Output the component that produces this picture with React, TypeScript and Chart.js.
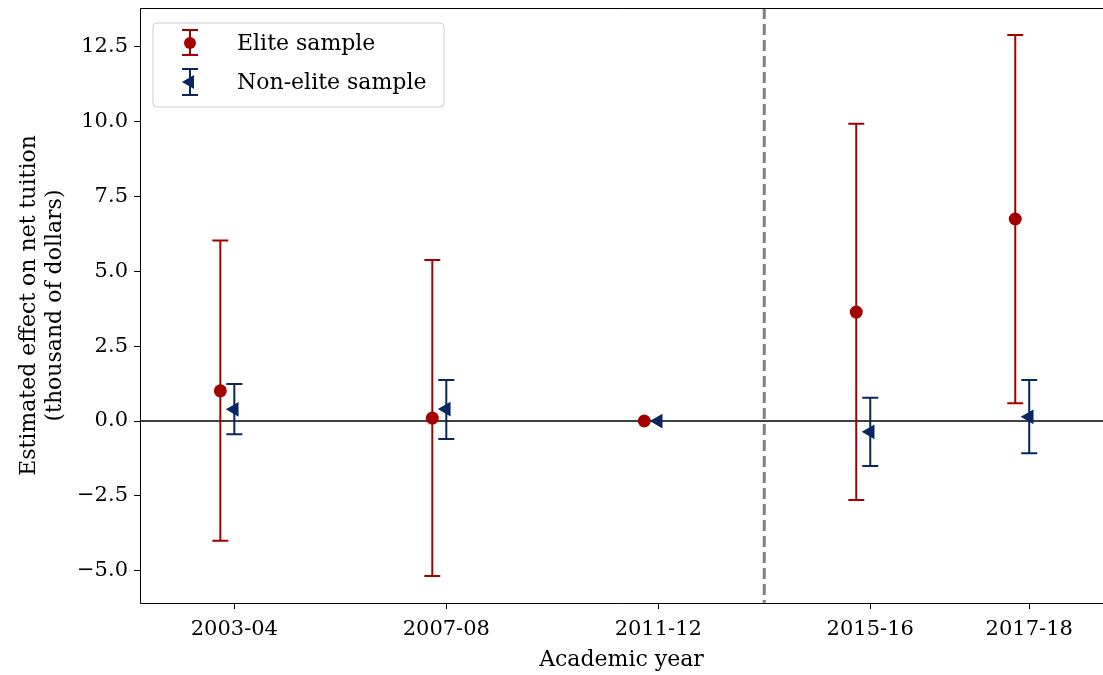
import React, { useEffect, useRef } from "react";
import { Chart, registerables } from "chart.js";

Chart.register(...registerables);

const categories = ["2003-04", "2007-08", "2011-12", "2015-16", "2017-18"];
const xPositions = [0, 1, 2, 3, 3.75];
const eliteEst = [1.01, 0.1, 0, 3.64, 6.75];
const eliteLow = [-4.0, -5.18, 0, -2.64, 0.59];
const eliteHigh = [6.03, 5.38, 0, 9.93, 12.9];
const nonEliteEst = [0.39, 0.4, 0, -0.36, 0.14];
const nonEliteLow = [-0.44, -0.6, 0, -1.5, -1.08];
const nonEliteHigh = [1.24, 1.37, 0, 0.78, 1.37];
const yTicks = [-5, -2.5, 0, 2.5, 5, 7.5, 10, 12.5];
const eliteOffset = -0.066;
const dividerX = 2.5;
const seriesNames = ["Elite sample", "Non-elite sample"];

const RED = "rgb(165,0,0)";
const NAVY = "rgb(8,38,96)";
const FONT = "'DejaVu Serif', 'Liberation Serif', serif";
const FS = 21;
const FS_TITLE = 22;

function drawTriangleLeft(ctx: CanvasRenderingContext2D, x: number, y: number, r: number, color: string) {
  ctx.beginPath();
  ctx.moveTo(x - r, y);
  ctx.lineTo(x + r * 0.5, y - r * 0.866);
  ctx.lineTo(x + r * 0.5, y + r * 0.866);
  ctx.closePath();
  ctx.fillStyle = color;
  ctx.fill();
}

function drawErrBar(ctx: CanvasRenderingContext2D, x: number, y1: number, y2: number, color: string) {
  const cap = 8;
  ctx.strokeStyle = color;
  ctx.lineWidth = 2;
  ctx.beginPath();
  ctx.moveTo(x, y1);
  ctx.lineTo(x, y2);
  ctx.moveTo(x - cap, y1);
  ctx.lineTo(x + cap, y1);
  ctx.moveTo(x - cap, y2);
  ctx.lineTo(x + cap, y2);
  ctx.stroke();
}

const decorPlugin = {
  id: "decor",
  beforeDatasetsDraw(chart: any) {
    const { ctx, chartArea, scales } = chart;
    const xs = scales.x;
    const ys = scales.y;
    ctx.save();
    const y0 = ys.getPixelForValue(0);
    ctx.strokeStyle = "#000";
    ctx.lineWidth = 1.5;
    ctx.beginPath();
    ctx.moveTo(chartArea.left, y0);
    ctx.lineTo(chartArea.right, y0);
    ctx.stroke();
    const xd = xs.getPixelForValue(dividerX);
    ctx.strokeStyle = "#808080";
    ctx.lineWidth = 3;
    ctx.setLineDash([11, 5]);
    ctx.beginPath();
    ctx.moveTo(xd, chartArea.top);
    ctx.lineTo(xd, chartArea.bottom);
    ctx.stroke();
    ctx.setLineDash([]);
    xPositions.forEach((xv, i) => {
      if (eliteHigh[i] !== eliteLow[i]) {
        drawErrBar(ctx, xs.getPixelForValue(xv + eliteOffset), ys.getPixelForValue(eliteLow[i]), ys.getPixelForValue(eliteHigh[i]), RED);
      }
    });
    xPositions.forEach((xv, i) => {
      if (nonEliteHigh[i] !== nonEliteLow[i]) {
        drawErrBar(ctx, xs.getPixelForValue(xv), ys.getPixelForValue(nonEliteLow[i]), ys.getPixelForValue(nonEliteHigh[i]), NAVY);
      }
    });
    ctx.restore();
  },
  afterDraw(chart: any) {
    const { ctx, chartArea } = chart;
    ctx.save();
    ctx.strokeStyle = "#000";
    ctx.lineWidth = 1;
    const L = Math.round(chartArea.left) + 0.5;
    const T = Math.round(chartArea.top) + 0.5;
    const B = Math.round(chartArea.bottom) + 0.5;
    const R = chartArea.right;
    ctx.beginPath();
    ctx.moveTo(L, B);
    ctx.lineTo(L, T);
    ctx.lineTo(R, T);
    ctx.moveTo(L, B);
    ctx.lineTo(R, B);
    ctx.stroke();
    const lx = chartArea.left + 13;
    const ly = chartArea.top + 15;
    const lw = 291;
    const lh = 84;
    const rr = 4;
    ctx.beginPath();
    ctx.moveTo(lx + rr, ly);
    ctx.arcTo(lx + lw, ly, lx + lw, ly + lh, rr);
    ctx.arcTo(lx + lw, ly + lh, lx, ly + lh, rr);
    ctx.arcTo(lx, ly + lh, lx, ly, rr);
    ctx.arcTo(lx, ly, lx + lw, ly, rr);
    ctx.closePath();
    ctx.fillStyle = "rgba(255,255,255,0.8)";
    ctx.fill();
    ctx.strokeStyle = "#cccccc";
    ctx.lineWidth = 1;
    ctx.stroke();
    const mx = lx + 37;
    const rows = [ly + 20, ly + 59];
    drawErrBar(ctx, mx, rows[0] - 13, rows[0] + 12, RED);
    ctx.beginPath();
    ctx.arc(mx, rows[0], 6, 0, Math.PI * 2);
    ctx.fillStyle = RED;
    ctx.fill();
    drawErrBar(ctx, mx, rows[1] - 13, rows[1] + 13, NAVY);
    drawTriangleLeft(ctx, mx, rows[1], 8, NAVY);
    ctx.fillStyle = "#000";
    ctx.font = `${FS_TITLE}px ${FONT}`;
    ctx.textBaseline = "middle";
    ctx.textAlign = "left";
    ctx.fillText(seriesNames[0], lx + 84, rows[0] + 1);
    ctx.fillText(seriesNames[1], lx + 84, rows[1] + 1);
    ctx.restore();
  },
};

export default function App() {
  const ref = useRef<HTMLCanvasElement>(null);
  useEffect(() => {
    if (!ref.current) return;
    const chart = new Chart(ref.current, {
      type: "scatter",
      data: {
        datasets: [
          {
            label: seriesNames[0],
            data: xPositions.map((x, i) => ({ x: x + eliteOffset, y: eliteEst[i] })),
            pointStyle: "circle",
            pointRadius: 6.5,
            pointBackgroundColor: RED,
            pointBorderWidth: 0,
            borderColor: RED,
          },
          {
            label: seriesNames[1],
            data: xPositions.map((x, i) => ({ x, y: nonEliteEst[i] })),
            pointStyle: "triangle",
            rotation: -90,
            pointRadius: 8.5,
            pointBackgroundColor: NAVY,
            pointBorderWidth: 0,
            borderColor: NAVY,
          },
        ],
      },
      options: {
        animation: false,
        responsive: true,
        maintainAspectRatio: false,
        layout: { autoPadding: false, padding: { top: 8, right: 0, bottom: 0, left: 0 } },
        plugins: { legend: { display: false }, tooltip: { enabled: false } },
        scales: {
          x: {
            type: "linear",
            min: -0.445,
            max: 4.098,
            afterBuildTicks: (s: any) => {
              s.ticks = xPositions.map((v) => ({ value: v }));
            },
            afterFit: (s: any) => {
              s.height = 72;
              s.paddingLeft = 0;
              s.paddingRight = 0;
            },
            ticks: {
              autoSkip: false,
              maxRotation: 0,
              padding: 8,
              color: "#000",
              font: { family: FONT, size: FS },
              callback: (v: any) => categories[xPositions.indexOf(Number(v))] ?? "",
            },
            grid: { display: true, drawOnChartArea: false, drawTicks: true, tickLength: 6, color: "#000", lineWidth: 1 },
            border: { display: false },
            title: {
              display: true,
              text: "Academic year",
              color: "#000",
              font: { family: FONT, size: FS_TITLE, lineHeight: 1.2 },
              padding: { top: 0, bottom: 2 },
            },
          },
          y: {
            type: "linear",
            min: -6.08,
            max: 13.8,
            afterBuildTicks: (s: any) => {
              s.ticks = yTicks.map((v) => ({ value: v }));
            },
            afterFit: (s: any) => {
              s.width = 140;
              s.paddingTop = 0;
              s.paddingBottom = 0;
            },
            ticks: {
              padding: 6,
              color: "#000",
              font: { family: FONT, size: FS },
              callback: (v: any) => Number(v).toFixed(1).replace("-", "\u2212"),
            },
            grid: { display: true, drawOnChartArea: false, drawTicks: true, tickLength: 6, color: "#000", lineWidth: 1 },
            border: { display: false },
            title: {
              display: true,
              text: ["Estimated effect on net tuition", "(thousand of dollars)"],
              color: "#000",
              font: { family: FONT, size: FS_TITLE, lineHeight: 1.2 },
              padding: { top: 16, bottom: 0 },
            },
          },
        },
      },
      plugins: [decorPlugin],
    });
    return () => chart.destroy();
  }, []);
  return (
    <div style={{ position: "absolute", left: 0, top: 0, width: 1103, height: 675 }}>
      <canvas ref={ref} />
    </div>
  );
}
